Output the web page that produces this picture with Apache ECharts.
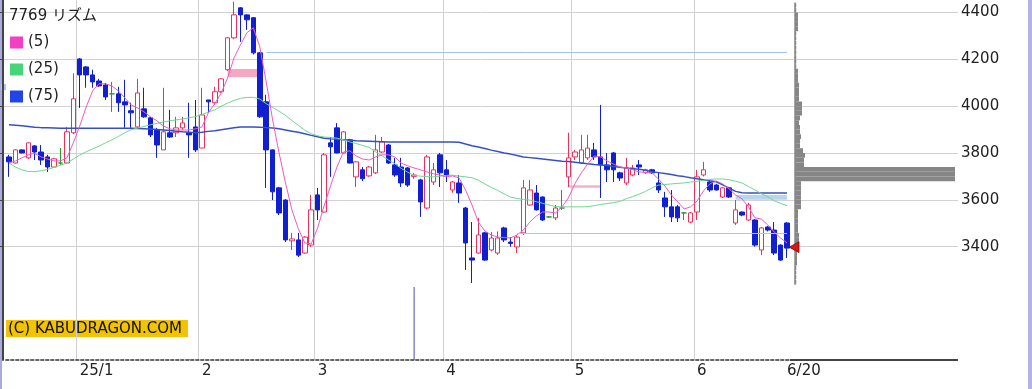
<!DOCTYPE html>
<html><head><meta charset="utf-8">
<script src="https://cdn.jsdelivr.net/npm/echarts@6/dist/echarts.min.js"></script>
<style>html,body{margin:0;padding:0;background:#fff}#c{width:1032px;height:389px}</style>
</head><body><div id="c"></div>
<script>
// ---- data ----
const title = '7769 リズム';
const maNames = ['(5)', '(25)', '(75)'];
const monthStarts = [11, 30, 48, 68, 88, 107];
const monthLabels = ['25/1', '2', '3', '4', '5', '6'];
const lastIndex = 121;
const lastLabel = '6/20';
const yTicks = [3400, 3600, 3800, 4000, 4200, 4400];

const open = [3783,3757,3813,3779,3830,3804,3783,3740,3757,3757,3886,4201,4167,4133,4107,4090,4052,4052,4018,3980,
3911,3988,3950,3898,3813,3886,3886,3907,3886,3911,3821,4026,4014,4061,4155,4291,4419,4389,4377,4227,
4018,3813,3651,3599,3425,3429,3373,3407,3621,3548,3843,3907,3800,3856,3698,3728,3702,3715,3804,3834,
3749,3740,3736,3700,3685,3565,3676,3792,3728,3642,3672,3565,3352,3373,3459,3386,3373,3480,3420,3399,
3459,3578,3629,3612,3527,3523,3565,3698,3783,3757,3779,3813,3783,3749,3800,3715,3672,3706,3749,3715,
3728,3672,3608,3570,3570,3544,3505,3548,3706,3676,3663,3612,3651,3501,3548,3514,3514,3386,3484,3471,
3407,3501];
const close = [3762,3813,3800,3843,3804,3770,3740,3775,3757,3890,4031,4133,4133,4103,4086,4039,4052,4014,4005,3971,
4056,3954,3877,3834,3890,3868,3907,3928,3877,3813,3962,4018,4061,4116,4291,4389,4389,4368,4227,3954,
3813,3634,3544,3429,3433,3364,3441,3557,3557,3792,3826,3800,3890,3757,3762,3690,3740,3813,3847,3757,
3706,3672,3663,3706,3591,3783,3728,3715,3706,3676,3629,3416,3343,3450,3343,3437,3437,3429,3414,3441,
3651,3642,3557,3514,3527,3565,3565,3779,3804,3813,3821,3783,3749,3728,3728,3693,3736,3736,3740,3728,
3715,3642,3570,3527,3523,3544,3544,3698,3728,3642,3642,3651,3612,3557,3535,3578,3407,3480,3471,3373,
3343,3394];
const low = [3698,3755,3798,3775,3770,3749,3719,3736,3749,3755,3880,3992,4078,4078,4082,4026,3975,3975,3907,3907,
3907,3950,3868,3779,3813,3864,3868,3898,3779,3804,3821,3971,4005,4056,4150,4285,4274,4325,4220,3950,
3651,3599,3535,3420,3386,3356,3370,3399,3514,3545,3698,3798,3798,3755,3655,3680,3698,3710,3800,3753,
3698,3655,3655,3690,3527,3560,3663,3655,3676,3630,3587,3301,3245,3370,3340,3380,3365,3420,3400,3373,
3450,3575,3555,3510,3523,3514,3557,3655,3770,3753,3770,3770,3608,3676,3676,3680,3663,3700,3706,3710,
3710,3629,3527,3505,3505,3514,3500,3514,3700,3634,3640,3608,3608,3493,3530,3510,3400,3364,3465,3364,
3340,3352];
const high = [3792,3815,3815,3845,3834,3834,3792,3779,3821,3911,4140,4205,4170,4155,4116,4099,4103,4082,4112,4014,
4116,4078,3954,3907,4078,3984,3954,3954,4014,4026,4078,4026,4082,4120,4295,4445,4422,4392,4380,4230,
4048,3815,3655,3603,3459,3459,3445,3621,3651,3800,3868,3928,3893,3860,3766,3740,3745,3877,3868,3838,
3779,3779,3740,3715,3690,3792,3757,3800,3770,3680,3706,3570,3505,3523,3463,3463,3465,3485,3441,3450,
3685,3685,3663,3615,3530,3578,3642,3886,3813,3877,3877,3843,4005,3800,3804,3720,3779,3749,3770,3732,
3732,3719,3634,3642,3578,3548,3548,3728,3762,3685,3668,3655,3655,3599,3550,3587,3518,3484,3488,3505,
3410,3505];

const ma5 = [3757,3766,3779,3792,3798,3783,3774,3766,3766,3779,3843,3915,3996,4065,4095,4095,4086,4065,4035,4005,
3992,3975,3954,3937,3915,3903,3898,3898,3898,3903,3911,3971,4010,4056,4120,4206,4261,4313,4334,4253,
4103,3941,3800,3672,3557,3476,3416,3412,3480,3574,3659,3740,3804,3809,3787,3774,3770,3783,3792,3792,
3783,3757,3745,3736,3728,3719,3711,3706,3698,3702,3693,3642,3578,3505,3467,3450,3441,3439,3437,3450,
3471,3505,3531,3548,3548,3544,3570,3608,3668,3715,3753,3787,3783,3766,3753,3740,3736,3728,3719,3717,
3715,3689,3659,3621,3591,3561,3570,3595,3638,3668,3680,3668,3646,3621,3604,3570,3523,3518,3493,3463,
3437,3416];
const ma25 = [3757,3740,3728,3721,3720,3724,3730,3738,3748,3757,3774,3791,3805,3817,3829,3843,3856,3870,3886,3899,
3906,3913,3920,3926,3932,3937,3941,3945,3950,3955,3964,3974,3984,3999,4013,4024,4033,4037,4037,4030,
4010,3994,3978,3960,3938,3918,3897,3882,3873,3868,3866,3863,3856,3847,3840,3832,3824,3805,3788,3770,
3754,3734,3718,3704,3701,3699,3698,3701,3704,3705,3701,3698,3694,3684,3668,3653,3640,3625,3612,3606,
3601,3599,3592,3585,3578,3571,3570,3570,3570,3570,3571,3575,3580,3584,3588,3593,3605,3614,3624,3636,
3651,3663,3665,3668,3670,3672,3676,3679,3683,3687,3689,3689,3686,3679,3672,3657,3642,3626,3613,3596,
3585,3575];
const ma75 = [3920,3918,3916,3913,3910,3908,3907,3906,3905,3905,3905,3905,3905,3905,3905,3905,3905,3905,3905,3905,
3904,3903,3902,3900,3898,3896,3893,3890,3888,3886,3888,3892,3895,3899,3903,3907,3911,3911,3911,3910,
3908,3906,3903,3898,3893,3888,3882,3875,3869,3863,3860,3858,3856,3854,3852,3851,3850,3849,3848,3847,
3847,3847,3847,3847,3847,3847,3847,3847,3847,3847,3846,3838,3831,3825,3819,3812,3806,3800,3795,3789,
3783,3780,3777,3774,3771,3768,3765,3763,3760,3757,3754,3751,3749,3746,3742,3739,3736,3733,3730,3726,
3720,3716,3712,3708,3703,3699,3694,3690,3686,3681,3677,3664,3650,3636,3630,3629,3629,3629,3629,3629,
3629,3629];

// volume (only a few bars are visible in the reference)
const volume = open.map(() => 0);
volume[28] = 1.5; volume[63] = 100; volume[92] = 1.5;

// price-by-volume profile: bin lower bounds (20 yen) and widths
const profileBins = [3240,3260,3280,3300,3320,3340,3360,3380,3400,3420,3440,3460,3480,3500,3520,3540,3560,3580,3600,3620,
3640,3660,3680,3700,3720,3740,3760,3780,3800,3820,3840,3860,3880,3900,3920,3940,3960,3980,4000,4020,
4040,4060,4080,4100,4120,4140,4160,4180,4200,4220,4240,4260,4280,4300,4320,4340,4360,4380,4400,4420];
const profileVol = [1,1,1,1,2,2,2,4,4,4,4,3,3,3,3,3,6,6,6,6,
6,6,160,160,160,9,9,10,8,5,5,6,5,5,4,5,7,7,7,4,
4,4,4,3,3,3,1,1,1,1,1,1,1,1,3,3,3,3,1,1];

// reference levels
const resistLine = 4230, supportLine = 3457;
const pinkZone = [4158, 4124], pinkZone2 = [3662, 3651], blueZone = [3621, 3600];
const lastPrice = 3398;

// ---- layout ----
const N = open.length;
const BAND = 6.43, CL = 5.8, CW = N * BAND;
const YMIN = 2916.6, YMAX = 4452.5;
const FONT = "'DejaVu Sans','Noto Sans CJK JP',sans-serif";
const categories = open.map((_, i) => String(i));
const labelMap = {};
monthStarts.forEach((s, i) => labelMap[s] = monthLabels[i]);
labelMap[lastIndex] = lastLabel;

const chart = echarts.init(document.getElementById('c'), null, {renderer: 'canvas'});
chart.setOption({
  animation: false,
  backgroundColor: '#ffffff',
  title: {text: title, left: 4, top: 4, textStyle: {fontSize: 15, fontWeight: 'normal', color: '#222', fontFamily: FONT}},
  legend: {
    orient: 'vertical', left: 5, top: 30, icon: 'rect', itemWidth: 13, itemHeight: 12, itemGap: 12,
    textStyle: {fontSize: 15, color: '#222', fontFamily: FONT},
    data: [
      {name: maNames[0], itemStyle: {color: '#f23fc3'}},
      {name: maNames[1], itemStyle: {color: '#45d67a'}},
      {name: maNames[2], itemStyle: {color: '#2244e6'}}
    ]
  },
  grid: [
    {left: CL, top: 0, width: CW, height: 360, outerBoundsMode: 'none'},
    {left: 3, top: 0, width: 955, height: 360, outerBoundsMode: 'none'},
    {left: CL, top: 287, width: CW, height: 73, outerBoundsMode: 'none'},
    {left: 795, top: 3.1, width: 160, height: 281.1, outerBoundsMode: 'none'}
  ],
  xAxis: [
    {gridIndex: 0, type: 'category', data: categories, boundaryGap: true,
     axisLine: {show: true, lineStyle: {color: '#333', type: [3, 2], width: 1.5}},
     axisTick: {show: false},
     axisLabel: {interval: (i) => labelMap[i] !== undefined, formatter: (v, i) => labelMap[i] || '',
       align: 'left', fontSize: 15, color: '#222', fontFamily: FONT, margin: 4},
     splitLine: {show: true, interval: (i) => monthStarts.indexOf(i) >= 0, showMaxLine: false,
       lineStyle: {color: '#d2d2d2', width: 1}}},
    {gridIndex: 1, type: 'value', min: 0, max: 1, show: false},
    {gridIndex: 2, type: 'category', data: categories, show: false},
    {gridIndex: 3, type: 'value', min: 0, max: 160, show: false}
  ],
  yAxis: [
    {gridIndex: 0, type: 'value', min: YMIN, max: YMAX, show: false},
    {gridIndex: 1, type: 'value', min: YMIN, max: YMAX, position: 'right',
     axisLine: {show: true, lineStyle: {color: '#444', width: 2}},
     axisTick: {show: true, inside: true, length: 5, customValues: yTicks, lineStyle: {color: '#444'}},
     axisLabel: {customValues: yTicks, formatter: (v) => String(Math.round(v)), fontSize: 15, color: '#222',
       fontFamily: FONT, margin: 3},
     splitLine: {show: true, lineStyle: {color: '#d2d2d2', width: 1}}},
    {gridIndex: 2, type: 'value', min: 0, max: 100, show: false},
    {gridIndex: 3, type: 'category', data: profileBins, boundaryGap: true,
     axisLine: {show: true, lineStyle: {color: '#8a8a8a', width: 1.5}},
     axisTick: {show: false}, axisLabel: {show: false}, splitLine: {show: false}}
  ],
  series: [
    {type: 'candlestick', name: 'price', xAxisIndex: 0, yAxisIndex: 0, barWidth: 5,
     data: open.map((o, i) => [o, close[i], low[i], high[i]]),
     itemStyle: {color: '#ffffff', color0: '#1020d0', borderColor: '#e8325e', borderColor0: '#1020d0',
       borderColorDoji: '#2d9a2d', borderWidth: 1},
     markLine: {silent: true, symbol: ['none', 'none'], label: {show: false},
       data: [
         [{coord: [40, resistLine], lineStyle: {color: '#9fc5ea', width: 1, type: 'solid'}}, {coord: [lastIndex, resistLine]}],
         [{coord: [79, supportLine], lineStyle: {color: '#f2a8c6', width: 1, type: 'solid'}}, {coord: [lastIndex, supportLine]}]
       ]},
     markArea: {silent: true, label: {show: false},
       data: [
         [{coord: [34, pinkZone[0]], itemStyle: {color: '#f6a8c3'}}, {coord: [39, pinkZone[1]]}],
         [{coord: [87, pinkZone2[0]], itemStyle: {color: '#f3b3cb'}}, {coord: [92, pinkZone2[1]]}],
         [{coord: [113, blueZone[0]], itemStyle: {color: '#b7d4f2'}}, {coord: [lastIndex, blueZone[1]]}]
       ]},
     markPoint: {silent: true, label: {show: false},
       data: [{coord: [lastIndex, lastPrice], symbol: 'triangle', symbolSize: [11, 10], symbolRotate: 90,
         symbolOffset: [7, 0], itemStyle: {color: '#e01212', borderColor: '#550000', borderWidth: 0.6}}]}
    },
    {type: 'line', name: maNames[2], xAxisIndex: 0, yAxisIndex: 0, data: ma75, showSymbol: false,
     lineStyle: {color: '#3550c4', width: 1.5}, itemStyle: {color: '#2244e6'}, z: 3},
    {type: 'line', name: maNames[1], xAxisIndex: 0, yAxisIndex: 0, data: ma25, showSymbol: false,
     lineStyle: {color: '#6fd792', width: 1}, itemStyle: {color: '#45d67a'}, z: 3},
    {type: 'line', name: maNames[0], xAxisIndex: 0, yAxisIndex: 0, data: ma5, showSymbol: false,
     lineStyle: {color: '#ec5cc8', width: 1}, itemStyle: {color: '#f23fc3'}, z: 4},
    {type: 'bar', name: 'volume', xAxisIndex: 2, yAxisIndex: 2, data: volume, barWidth: 1,
     itemStyle: {color: '#4a4ab8'}},
    {type: 'bar', name: 'profile', xAxisIndex: 3, yAxisIndex: 3, data: profileVol, barCategoryGap: '0%',
     itemStyle: {color: '#868686', borderColor: '#868686', borderWidth: 1.5}}
  ],
  graphic: [
    {type: 'rect', left: 0, top: 0, shape: {width: 2, height: 389}, style: {fill: '#aaaadc'}, silent: true},
    {type: 'rect', left: 1028, top: 0, shape: {width: 4, height: 389}, style: {fill: '#b2b2e6'}, silent: true},
    {type: 'rect', left: 1, top: 84, shape: {width: 5, height: 6}, style: {fill: '#a9c9f0'}, silent: true},
    {type: 'line', shape: {x1: 790, y1: 360, x2: 958, y2: 360}, style: {stroke: '#444', lineWidth: 2}, silent: true},
    {type: 'group', left: 6, top: 320, silent: true, children: [
      {type: 'rect', shape: {x: 0, y: 0, width: 182, height: 17}, style: {fill: '#f2c300'}},
      {type: 'text', x: 2, y: 9, style: {text: '(C) KABUDRAGON.COM', fill: '#111', fontSize: 15,
        fontFamily: FONT, verticalAlign: 'middle'}}
    ]}
  ]
});
</script></body></html>
